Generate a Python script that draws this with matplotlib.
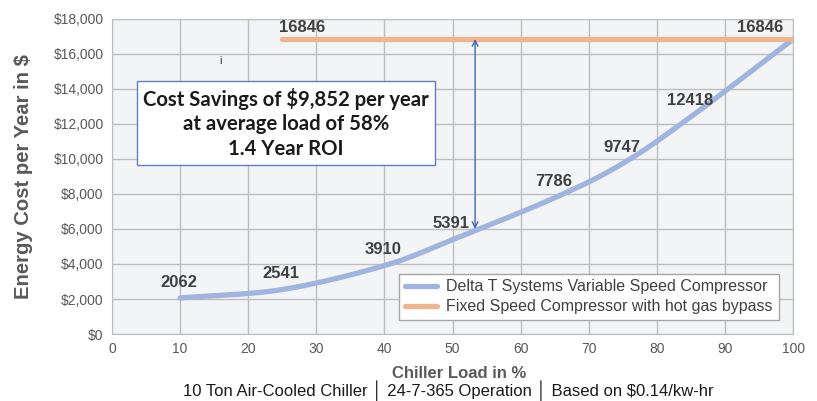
import numpy as np
import matplotlib
matplotlib.use("Agg")
import matplotlib.pyplot as plt
from matplotlib.ticker import FuncFormatter

plt.rcParams['font.family'] = ['Liberation Sans', 'DejaVu Sans']

# Data
load_pct = [10, 25, 40, 50, 65, 75, 85, 100]
variable_cost = [2062, 2541, 3910, 5391, 7786, 9747, 12418, 16846]
fixed_load = [25, 100]
fixed_cost = [16846, 16846]
x_ticks = list(range(0, 101, 10))
y_ticks = list(range(0, 18001, 2000))
series_names = ["Delta T Systems Variable Speed Compressor",
                "Fixed Speed Compressor with hot gas bypass"]
arrow_x = 53.3
arrow_y = [6000, 16846]


def smooth(xs, ys, n=30):
    # Catmull-Rom style smoothing like a spreadsheet "smoothed line"
    xs = np.asarray(xs, float); ys = np.asarray(ys, float)
    px = np.concatenate([[2 * xs[0] - xs[1]], xs, [2 * xs[-1] - xs[-2]]])
    py = np.concatenate([[2 * ys[0] - ys[1]], ys, [2 * ys[-1] - ys[-2]]])
    outx, outy = [], []
    for i in range(1, len(px) - 2):
        t = np.linspace(0, 1, n, endpoint=(i == len(px) - 3))
        for arr, out in ((px, outx), (py, outy)):
            p0, p1, p2, p3 = arr[i - 1], arr[i], arr[i + 1], arr[i + 2]
            out.extend(0.5 * ((2 * p1) + (-p0 + p2) * t +
                              (2 * p0 - 5 * p1 + 4 * p2 - p3) * t ** 2 +
                              (-p0 + 3 * p1 - 3 * p2 + p3) * t ** 3))
    return np.array(outx), np.array(outy)


fig = plt.figure(figsize=(8.17, 4.01), dpi=100)
fig.patch.set_facecolor("white")
ax = fig.add_axes([0.137, 0.167, 0.834, 0.786])
ax.set_facecolor("#f3f4f6")

sx, sy = smooth(load_pct, variable_cost)
ax.plot(sx, sy, color="#9fb4de", lw=3.8, solid_capstyle="round", label=series_names[0], zorder=3)
ax.plot(fixed_load, fixed_cost, color="#f0b48e", lw=3.8, solid_capstyle="round", label=series_names[1], zorder=3)

# data labels
lab_kw = dict(fontsize=12, fontweight="bold", color="#404040", zorder=5)
for x, y in zip(load_pct, variable_cost):
    if x == 100:
        ax.annotate(f"{y}", (x, y), xytext=(-7, 3), textcoords="offset points", ha="right", va="bottom", **lab_kw)
    else:
        ax.annotate(f"{y}", (x, y), xytext=(-1, 6), textcoords="offset points", ha="center", va="bottom", **lab_kw)
ax.annotate(f"{fixed_cost[0]}", (fixed_load[0], fixed_cost[0]), xytext=(14, 3), textcoords="offset points",
            ha="center", va="bottom", **lab_kw)

# double-headed arrow
ax.annotate("", xy=(arrow_x, arrow_y[1]), xytext=(arrow_x, arrow_y[0]),
            arrowprops=dict(arrowstyle="<->", color="#3d66b8", lw=1.0, shrinkA=0, shrinkB=0,
                            mutation_scale=10), zorder=4)

# savings text box
ax.text(25.5, 12050, "Cost Savings of $9,852 per year\nat average load of 58%\n1.4 Year ROI",
        ha="center", va="center", fontsize=14.6, fontweight="bold", family="Lato", color="#1a1a1a",
        linespacing=1.28, zorder=6,
        bbox=dict(boxstyle="square,pad=0.3", facecolor="white", edgecolor="#5a7fc4", lw=1.0))
ax.text(16, 15300, "i", fontsize=8, color="#333333", ha="center", va="bottom")

ax.set_xlim(0, 100)
ax.set_ylim(0, 18000)
ax.set_xticks(x_ticks)
ax.set_yticks(y_ticks)
ax.yaxis.set_major_formatter(FuncFormatter(lambda v, p: f"${int(v):,}"))
ax.tick_params(length=0, labelsize=10, colors="#595959", pad=6)
ax.grid(True, color="#bdbdbd", lw=1.0)
ax.set_axisbelow(True)
for s in ax.spines.values():
    s.set_color("#bdbdbd")

ax.set_ylabel("Energy Cost per Year in $", fontsize=14.6, fontweight="bold", color="#595959", labelpad=15)
ax.set_xlabel("Chiller Load in %", fontsize=12, fontweight="bold", color="#595959", labelpad=5)
ax.xaxis.set_label_coords(0.51, -0.1)
fig.text(0.549, 0.0, "10 Ton Air-Cooled Chiller \u2502 24-7-365 Operation \u2502 Based on $0.14/kw-hr",
         ha="center", va="bottom", fontsize=12, color="#1a1a1a")

leg = ax.legend(loc="lower right", bbox_to_anchor=(0.99, 0.02), fontsize=11.5, frameon=True, fancybox=False,
                handlelength=2.0, borderpad=0.35, labelspacing=0.3, handletextpad=0.6)
leg.get_frame().set_edgecolor("#a6a6a6")
leg.get_frame().set_facecolor("white")
leg.get_frame().set_alpha(1)
for t in leg.get_texts():
    t.set_color("#404040")

fig.savefig("out.png", dpi=100)
